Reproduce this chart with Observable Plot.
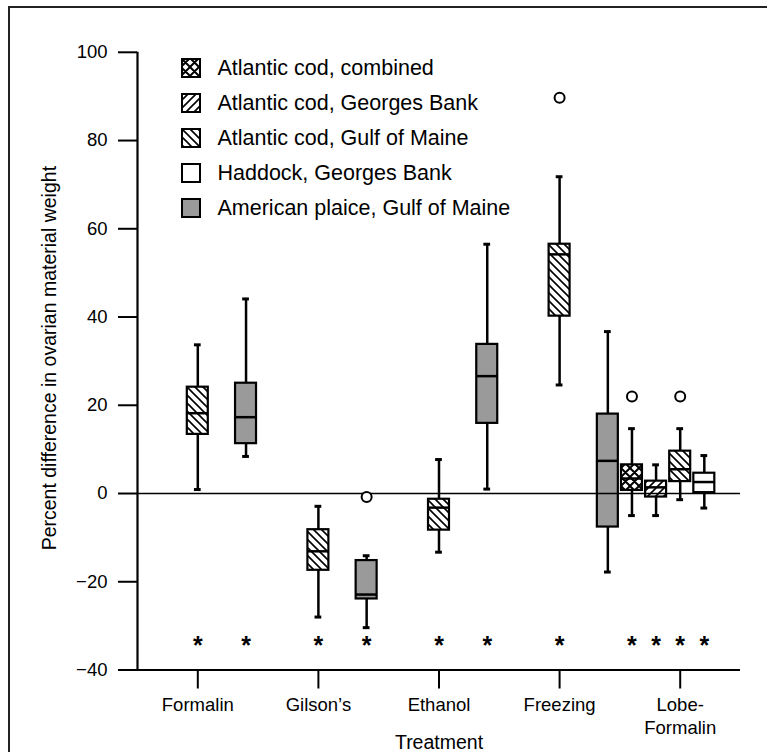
<!DOCTYPE html>
<html>
<head>
<meta charset="utf-8">
<script src="https://cdn.jsdelivr.net/npm/d3@7"></script>
<script src="https://cdn.jsdelivr.net/npm/@observablehq/plot@0.6"></script>
<style>
  html, body { margin: 0; padding: 0; background: #fff; }
  body { width: 767px; height: 752px; overflow: hidden; position: relative; font-family: "Liberation Sans", Arial, Helvetica, sans-serif; }
  #frame { position: absolute; left: 8px; top: 6px; width: 900px; height: 900px; border-left: 2px solid #222; border-top: 2px solid #222; box-sizing: border-box; }
  #chart { position: absolute; left: 0; top: 0; }
  #legend { position: absolute; left: 0; top: 0; }
  .row { position: absolute; left: 181px; height: 20px; display: flex; align-items: center; white-space: nowrap; }
  .row svg { display: block; flex: none; }
  .row span { margin-left: 16.5px; font-size: 21.5px; line-height: 20px; color: #000; }
</style>
</head>
<body>
<svg width="0" height="0" style="position:absolute">
  <defs>
    <pattern id="pat-back" patternUnits="userSpaceOnUse" width="8" height="8">
      <rect width="8" height="8" fill="white"/>
      <path d="M-2,-2L10,10M-2,6L2,10M6,-2L10,2" stroke="black" stroke-width="1.6"/>
    </pattern>
    <pattern id="pat-fwd" patternUnits="userSpaceOnUse" width="8" height="8">
      <rect width="8" height="8" fill="white"/>
      <path d="M-2,10L10,-2M-2,2L2,-2M6,10L10,6" stroke="black" stroke-width="1.6"/>
    </pattern>
    <pattern id="pat-cross" patternUnits="userSpaceOnUse" width="9" height="9">
      <rect width="9" height="9" fill="white"/>
      <path d="M-2,-2L11,11M-2,7L2,11M7,-2L11,2M-2,11L11,-2M-2,2L2,-2M7,11L11,7" stroke="black" stroke-width="2"/>
    </pattern>
  </defs>
</svg>
<div id="frame"></div>
<div id="chart"></div>
<div id="legend"></div>
<script>
// ---------------- data ----------------
const treatments = ["Formalin", "Gilson’s", "Ethanol", "Freezing", "Lobe-\nFormalin"];
const seriesNames = [
  "Atlantic cod, combined",
  "Atlantic cod, Georges Bank",
  "Atlantic cod, Gulf of Maine",
  "Haddock, Georges Bank",
  "American plaice, Gulf of Maine"
];
const boxTreatment = ["Formalin", "Formalin", "Gilson’s", "Gilson’s", "Ethanol", "Ethanol",
  "Freezing", "Freezing", "Lobe-\nFormalin", "Lobe-\nFormalin", "Lobe-\nFormalin", "Lobe-\nFormalin"];
const boxSeries = [
  "Atlantic cod, Gulf of Maine", "American plaice, Gulf of Maine",
  "Atlantic cod, Gulf of Maine", "American plaice, Gulf of Maine",
  "Atlantic cod, Gulf of Maine", "American plaice, Gulf of Maine",
  "Atlantic cod, Gulf of Maine", "American plaice, Gulf of Maine",
  "Atlantic cod, combined", "Atlantic cod, Georges Bank",
  "Atlantic cod, Gulf of Maine", "Haddock, Georges Bank"
];
const whiskerLow  = [0.9,  8.4, -28.0, -30.4, -13.3,  1.0, 24.6, -17.8, -5.0, -5.0, -1.4, -3.3];
const quartile1   = [13.4, 11.3, -17.4, -23.9,  -8.3, 15.9, 40.2,  -7.6,  0.7, -0.8,  2.7,  0.2];
const medians     = [18.2, 17.3, -13.1, -22.9,  -3.2, 26.6, 54.2,   7.4,  3.4,  1.4,  5.5,  2.6];
const quartile3   = [24.1, 25.0,  -8.2, -15.2,  -1.3, 33.8, 56.5,  18.0,  6.5,  2.8,  9.6,  4.6];
const whiskerHigh = [33.7, 44.1,  -2.9, -14.1,   7.7, 56.5, 71.8,  36.7, 14.7,  6.5, 14.7,  8.6];
const significant = [true, true, true, true, true, true, true, false, true, true, true, true];

const outlierTreatment = ["Gilson’s", "Freezing", "Lobe-\nFormalin", "Lobe-\nFormalin"];
const outlierSeries = ["American plaice, Gulf of Maine", "Atlantic cod, Gulf of Maine",
  "Atlantic cod, combined", "Atlantic cod, Gulf of Maine"];
const outlierValue = [-0.8, 89.7, 22.0, 22.0];

const yTicks = [-40, -20, 0, 20, 40, 60, 80, 100];
const asteriskLevel = -33.7;

// ---------------- layout helpers ----------------
const slotsPerTreatment = 5;
const lobeOrder = ["Atlantic cod, combined", "Atlantic cod, Georges Bank", "Atlantic cod, Gulf of Maine", "Haddock, Georges Bank"];
function slot(treatment, series) {
  const t = treatments.indexOf(treatment) * slotsPerTreatment;
  if (treatment === "Lobe-\nFormalin") return t + lobeOrder.indexOf(series) - 2;
  return t + (series === "American plaice, Gulf of Maine" ? 2 : 0);
}
const fills = {
  "Atlantic cod, combined": "url(#pat-cross)",
  "Atlantic cod, Georges Bank": "url(#pat-fwd)",
  "Atlantic cod, Gulf of Maine": "url(#pat-back)",
  "Haddock, Georges Bank": "white",
  "American plaice, Gulf of Maine": "#9a9a9a"
};

const boxes = boxTreatment.map((t, i) => ({
  treatment: t, series: boxSeries[i], pos: slot(t, boxSeries[i]),
  low: whiskerLow[i], q1: quartile1[i], med: medians[i], q3: quartile3[i], high: whiskerHigh[i],
  sig: significant[i]
}));
const outliers = outlierTreatment.map((t, i) => ({ pos: slot(t, outlierSeries[i]), value: outlierValue[i] }));
const tickPos = treatments.map((t, i) => i * slotsPerTreatment);

const halfBox = 0.435, halfCap = 0.14;

const boxMarks = seriesNames.map(s => Plot.rect(boxes.filter(d => d.series === s), {
  x1: d => d.pos - halfBox, x2: d => d.pos + halfBox, y1: "q1", y2: "q3",
  fill: fills[s], stroke: "black", strokeWidth: 2.2
}));

const chart = Plot.plot({
  width: 767, height: 752,
  marginLeft: 137, marginRight: 27, marginTop: 51.8, marginBottom: 82.5,
  x: { domain: [-2.5, 22.5], axis: null },
  y: { domain: [-40, 100], axis: null },
  style: { fontFamily: "'Liberation Sans', Arial, Helvetica, sans-serif", background: "transparent", color: "black" },
  marks: [
    Plot.axisY({ ticks: yTicks, tickSize: 19, tickPadding: 11, fontSize: 18.5, strokeWidth: 2, label: null }),
    Plot.axisX({ ticks: tickPos, tickFormat: d => treatments[d / slotsPerTreatment], tickSize: 19, tickPadding: 6,
      fontSize: 18.5, lineHeight: 1.22, strokeWidth: 2, label: null }),
    Plot.ruleX([-2.5], { strokeWidth: 2.2 }),
    Plot.ruleY([-40], { strokeWidth: 2.2 }),
    Plot.ruleX(boxes, { x: "pos", y1: "low", y2: "high", strokeWidth: 2.5 }),
    Plot.ruleY(boxes, { y: "low", x1: d => d.pos - halfCap, x2: d => d.pos + halfCap, strokeWidth: 3 }),
    Plot.ruleY(boxes, { y: "high", x1: d => d.pos - halfCap, x2: d => d.pos + halfCap, strokeWidth: 3 }),
    ...boxMarks,
    Plot.ruleY(boxes, { y: "med", x1: d => d.pos - halfBox, x2: d => d.pos + halfBox, strokeWidth: 2.5 }),
    Plot.ruleY([0], { strokeWidth: 1.6 }),
    Plot.dot(outliers, { x: "pos", y: "value", r: 5, stroke: "black", fill: "white", strokeWidth: 2 }),
    Plot.text(boxes.filter(d => d.sig), { x: "pos", y: () => asteriskLevel, text: () => "*", fontSize: 25, fontWeight: "bold", dy: 4 }),
    Plot.text(["Treatment"], { text: d => d, frameAnchor: "bottom", textAnchor: "middle", lineAnchor: "middle", dy: 73, fontSize: 19.5 }),
    Plot.text(["Percent difference in ovarian material weight"], { text: d => d, frameAnchor: "left", textAnchor: "middle", lineAnchor: "middle", rotate: -90, dx: -88, dy: -3, fontSize: 19.5 })
  ]
});
document.getElementById("chart").appendChild(chart);

// ---------------- legend ----------------
const legend = d3.select("#legend");
seriesNames.forEach((s, i) => {
  const row = legend.append("div").attr("class", "row").style("top", (58 + i * 35) + "px");
  const sw = row.append("svg").attr("width", 20).attr("height", 20);
  sw.append("rect").attr("x", 1).attr("y", 1).attr("width", 18).attr("height", 18)
    .attr("fill", fills[s]).attr("stroke", "black").attr("stroke-width", 2);
  row.append("span").text(s);
});
</script>
</body>
</html>
